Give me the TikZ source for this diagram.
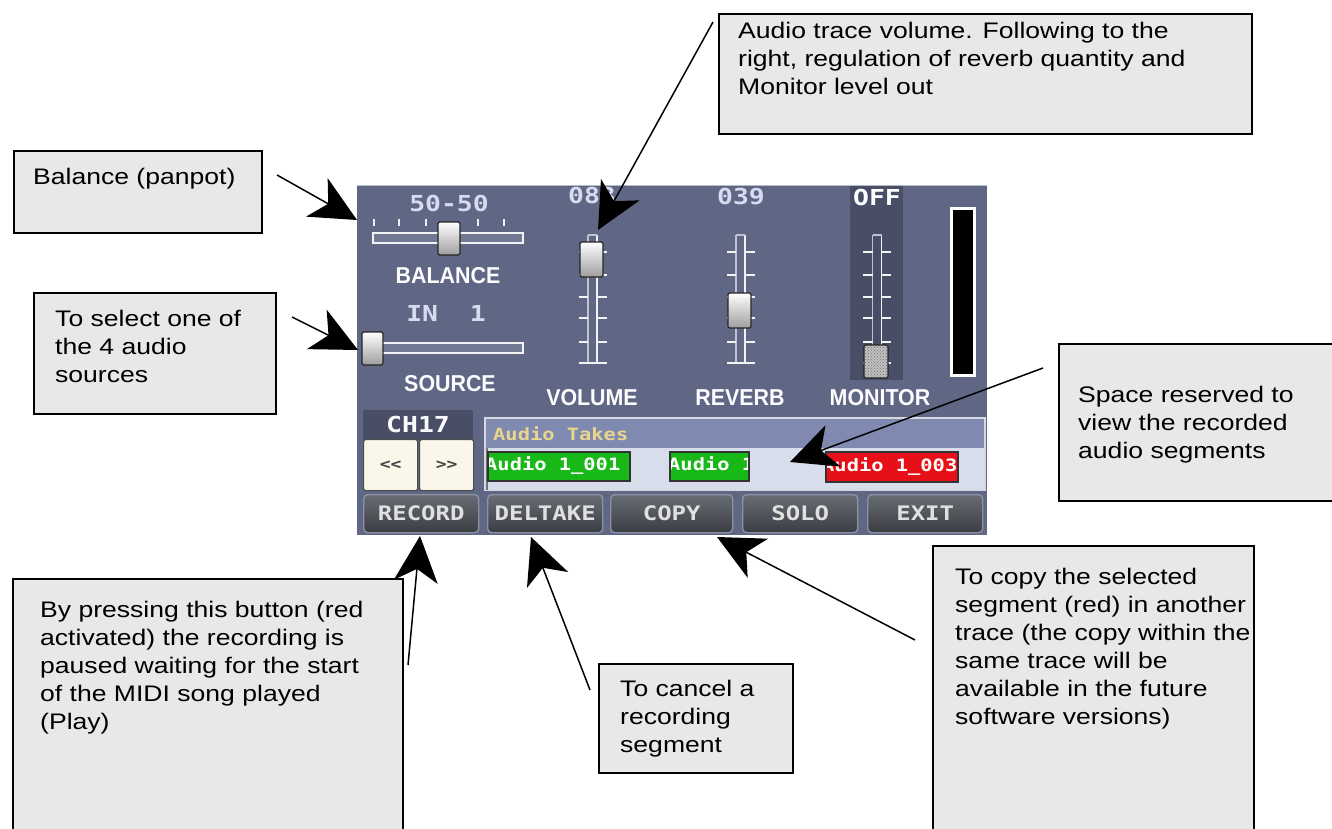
\documentclass[tikz,border=0pt]{standalone}
\usepackage{fontspec}
\setmainfont{Liberation Sans}[FakeStretch=1.18]
\newfontfamily\uimono{DejaVu Sans Mono}[FakeStretch=1.2]
\newfontfamily\uilabel{Liberation Sans}[FakeStretch=0.93]
\usetikzlibrary{arrows.meta,patterns}

\definecolor{panelbg}{RGB}{95,103,132}
\definecolor{paneldark}{RGB}{72,78,102}
\definecolor{uilav}{RGB}{214,219,240}
\definecolor{calloutfill}{RGB}{232,232,232}
\definecolor{takehead}{RGB}{128,137,175}
\definecolor{takeband}{RGB}{216,221,236}
\definecolor{takegreen}{RGB}{24,184,24}
\definecolor{takered}{RGB}{232,16,24}
\definecolor{btnborder}{RGB}{140,146,162}
\definecolor{btntop}{RGB}{104,108,116}
\definecolor{btnbot}{RGB}{58,61,66}
\definecolor{yellowtxt}{RGB}{232,214,140}
\definecolor{creambtn}{RGB}{250,247,234}

\tikzset{
  callout/.style={draw=black, line width=1.6, fill=calloutfill, inner sep=0, anchor=north west},
  ctext/.style={anchor=north west, align=left, inner sep=0, font=\fontsize{22.5}{28}\selectfont},
  pointer/.style={line width=1.5, -{Stealth[length=46,width=44,inset=13]}},
  knob/.style={draw=black!85, line width=1.2, top color=white, bottom color=black!38, rounded corners=1.5},
  monolbl/.style={font=\uimono\bfseries\fontsize{22}{22}\selectfont, text=uilav, inner sep=0},
  takefont/.style={font=\uimono\bfseries\fontsize{17}{17}\selectfont, inner sep=0, anchor=west},
  caplbl/.style={font=\uilabel\bfseries\fontsize{23}{23}\selectfont, text=white!92!uilav, inner sep=0},
  trackline/.style={draw=white!92!panelbg, line width=1.5},
  btn/.style={draw=btnborder, line width=1.4, rounded corners=4, top color=btntop, bottom color=btnbot,
    inner sep=0, anchor=north west, minimum height=38, text=white!88!black,
    font=\uimono\bfseries\fontsize{20}{20}\selectfont},
  navbtn/.style={draw=black!70, line width=1.2, fill=creambtn, rounded corners=2, inner sep=0,
    anchor=north west, minimum width=54, minimum height=51, text=black!75,
    font=\uimono\bfseries\fontsize{15}{15}\selectfont},
  take/.style={draw=black!80, line width=1.2}
}

% vertical fader channel with its scale marks
\newcommand{\vtrack}[1]{%
  \draw[white!60!panelbg, line width=1.2] (#1-4.5,235) -- (#1-4.5,363);
  \draw[trackline] (#1+4.5,235) -- (#1+4.5,363);
  \draw[white!60!panelbg, line width=1.2] (#1-4.5,235) -- (#1+4.5,235);
  \foreach \ty in {252,275,297,318,342}{
    \draw[trackline] (#1-14,\ty) -- (#1-4.5,\ty);
    \draw[trackline] (#1+4.5,\ty) -- (#1+14,\ty);
  }
  \draw[trackline] (#1-14,363) -- (#1+14,363);
}

\begin{document}
\begin{tikzpicture}[x=1pt,y=-1pt]
\clip (0,0) rectangle (1332,829);
\fill[white] (0,0) rectangle (1332,829);

% ---------- mixer screen ----------
\fill[panelbg] (357,185) rectangle (987,535);
\draw[white!55!panelbg, line width=1] (357,185.5) -- (987,185.5);
\fill[paneldark] (850,186) rectangle (903,380);

% balance
\node[monolbl] (balval) at (449,203) {50-50};
\foreach \tx in {374,399,426,478,504}
  \draw[white!90!panelbg, line width=1.4] (\tx,219) -- (\tx,226);
\draw[trackline, fill=panelbg!88!white] (373,233) rectangle (523,243);
\draw[knob] (438,222) rectangle (460,255);
\node[caplbl] (ballbl) at (448,276) {BALANCE};

% source
\node[monolbl] (srcval) at (446,313) {IN\ \ 1};
\draw[trackline, fill=panelbg!88!white] (373,343) rectangle (523,353);
\draw[knob] (362,332) rectangle (383,365);
\node[caplbl] (srclbl) at (450,384) {SOURCE};

% volume
\node[monolbl] (volval) at (592,195) {083};
\vtrack{592.5}
\draw[knob] (580,242) rectangle (603,277);
\node[caplbl] (vollbl) at (592,398) {VOLUME};

% reverb
\node[monolbl] (revval) at (741,197) {039};
\vtrack{740.5}
\draw[knob] (728,293) rectangle (751,328);
\node[caplbl] (revlbl) at (740,398) {REVERB};

% monitor
\node[monolbl, text=white!94!uilav] (monval) at (877,197) {OFF};
\vtrack{877}
\fill[black!25] (864,345) rectangle (888,378);
\fill[pattern=crosshatch dots, pattern color=black!55] (864,345) rectangle (888,378);
\draw[black!85, line width=1.2, rounded corners=1.5] (864,345) rectangle (888,378);
\node[caplbl] (monlbl) at (880,398) {MONITOR};

% level meter
\draw[white, line width=3, fill=black] (951.5,208.5) rectangle (974.5,375.5);

% channel selector
\fill[paneldark] (363,410) rectangle (473,440);
\node[monolbl, text=white!90!uilav] (chan) at (418,424) {CH17};
\node[navbtn] (prev) at (363,439) {{<}{<}};
\node[navbtn] (next) at (419,439) {{>}{>}};

% audio takes list
\draw[fill=takeband, draw=white!75!panelbg, line width=1.2] (485,418) rectangle (985,490);
\fill[takehead] (486,419) rectangle (984,448);
\draw[black!55, line width=2] (487,448) -- (487,490);
\node[takefont, text=yellowtxt] (takes) at (493,434) {Audio Takes};
\begin{scope}
  \clip (488,452) rectangle (630,481);
  \fill[takegreen] (488,452) rectangle (630,481);
  \node[takefont, text=white] (take1) at (485,466) {Audio 1\_001};
\end{scope}
\draw[take] (488,452) rectangle (630,481);
\begin{scope}
  \clip (670,452) rectangle (749,481);
  \fill[takegreen] (670,452) rectangle (749,481);
  \node[takefont, text=white] (take2) at (668,466) {Audio 1\_002};
\end{scope}
\draw[take] (670,452) rectangle (749,481);
\begin{scope}
  \clip (826,452) rectangle (958,482);
  \fill[takered] (826,452) rectangle (958,482);
  \node[takefont, text=white] (take3) at (822,467) {Audio 1\_003};
\end{scope}
\draw[take] (826,452) rectangle (958,482);

% soft keys
\node[btn, minimum width=115] (brec)  at (363,494) {RECORD};
\node[btn, minimum width=115] (bdel)  at (487,494) {DELTAKE};
\node[btn, minimum width=122] (bcopy) at (610,494) {COPY};
\node[btn, minimum width=115] (bsolo) at (742,494) {SOLO};
\node[btn, minimum width=115] (bexit) at (867,494) {EXIT};

% ---------- callouts ----------
\node[callout, minimum width=248, minimum height=82] (cbal) at (13,150) {};
\node[ctext] (tbal) at (33,168) {Balance (panpot)};

\node[callout, minimum width=242, minimum height=121] (csrc) at (33,292) {};
\node[ctext] (tsrc) at (55,310) {To select one of\\the 4 audio\\sources};

\node[callout, minimum width=533, minimum height=120] (cvol) at (718,13) {};
\node[ctext] (tvol) at (738,22) {Audio trace volume. Following to the\\right, regulation of reverb quantity and\\Monitor level out};

\node[callout, minimum width=290, minimum height=157] (ctak) at (1058,343) {};
\node[ctext] (ttak) at (1078,386) {Space reserved to\\view the recorded\\audio segments};

\node[callout, minimum width=390, minimum height=280] (crec) at (12,578) {};
\node[ctext] (trec) at (40,601) {By pressing this button (red\\activated) the recording is\\paused waiting for the start\\of the MIDI song played\\(Play)};

\node[callout, minimum width=194, minimum height=109] (cdel) at (598,663) {};
\node[ctext] (tdel) at (620,680) {To cancel a\\recording\\segment};

\node[callout, minimum width=321, minimum height=300] (ccop) at (932,545) {};
\node[ctext] (tcop) at (955,568) {To copy the selected\\segment (red) in another\\trace (the copy within the\\same trace will be\\available in the future\\software versions)};

% ---------- pointers ----------
\coordinate (pbal) at (277,175);  \coordinate (hbal) at (357,220);
\coordinate (psrc) at (292,317);  \coordinate (hsrc) at (358,350);
\coordinate (pvol) at (713,22);   \coordinate (hvol) at (598,230);
\coordinate (ptak) at (1043,368); \coordinate (htak) at (790,462);
\coordinate (prec) at (408,665);  \coordinate (hrec) at (420,536);
\coordinate (pdel) at (590,690);  \coordinate (hdel) at (531,537);
\coordinate (pcop) at (915,640);  \coordinate (hcop) at (717,537);

\draw[pointer] (pbal) -- (hbal);
\draw[pointer] (psrc) -- (hsrc);
\draw[pointer] (pvol) -- (hvol);
\draw[pointer] (ptak) -- (htak);
\draw[pointer] (prec) -- (hrec);
\draw[pointer] (pdel) -- (hdel);
\draw[pointer] (pcop) -- (hcop);
\end{tikzpicture}
\end{document}
